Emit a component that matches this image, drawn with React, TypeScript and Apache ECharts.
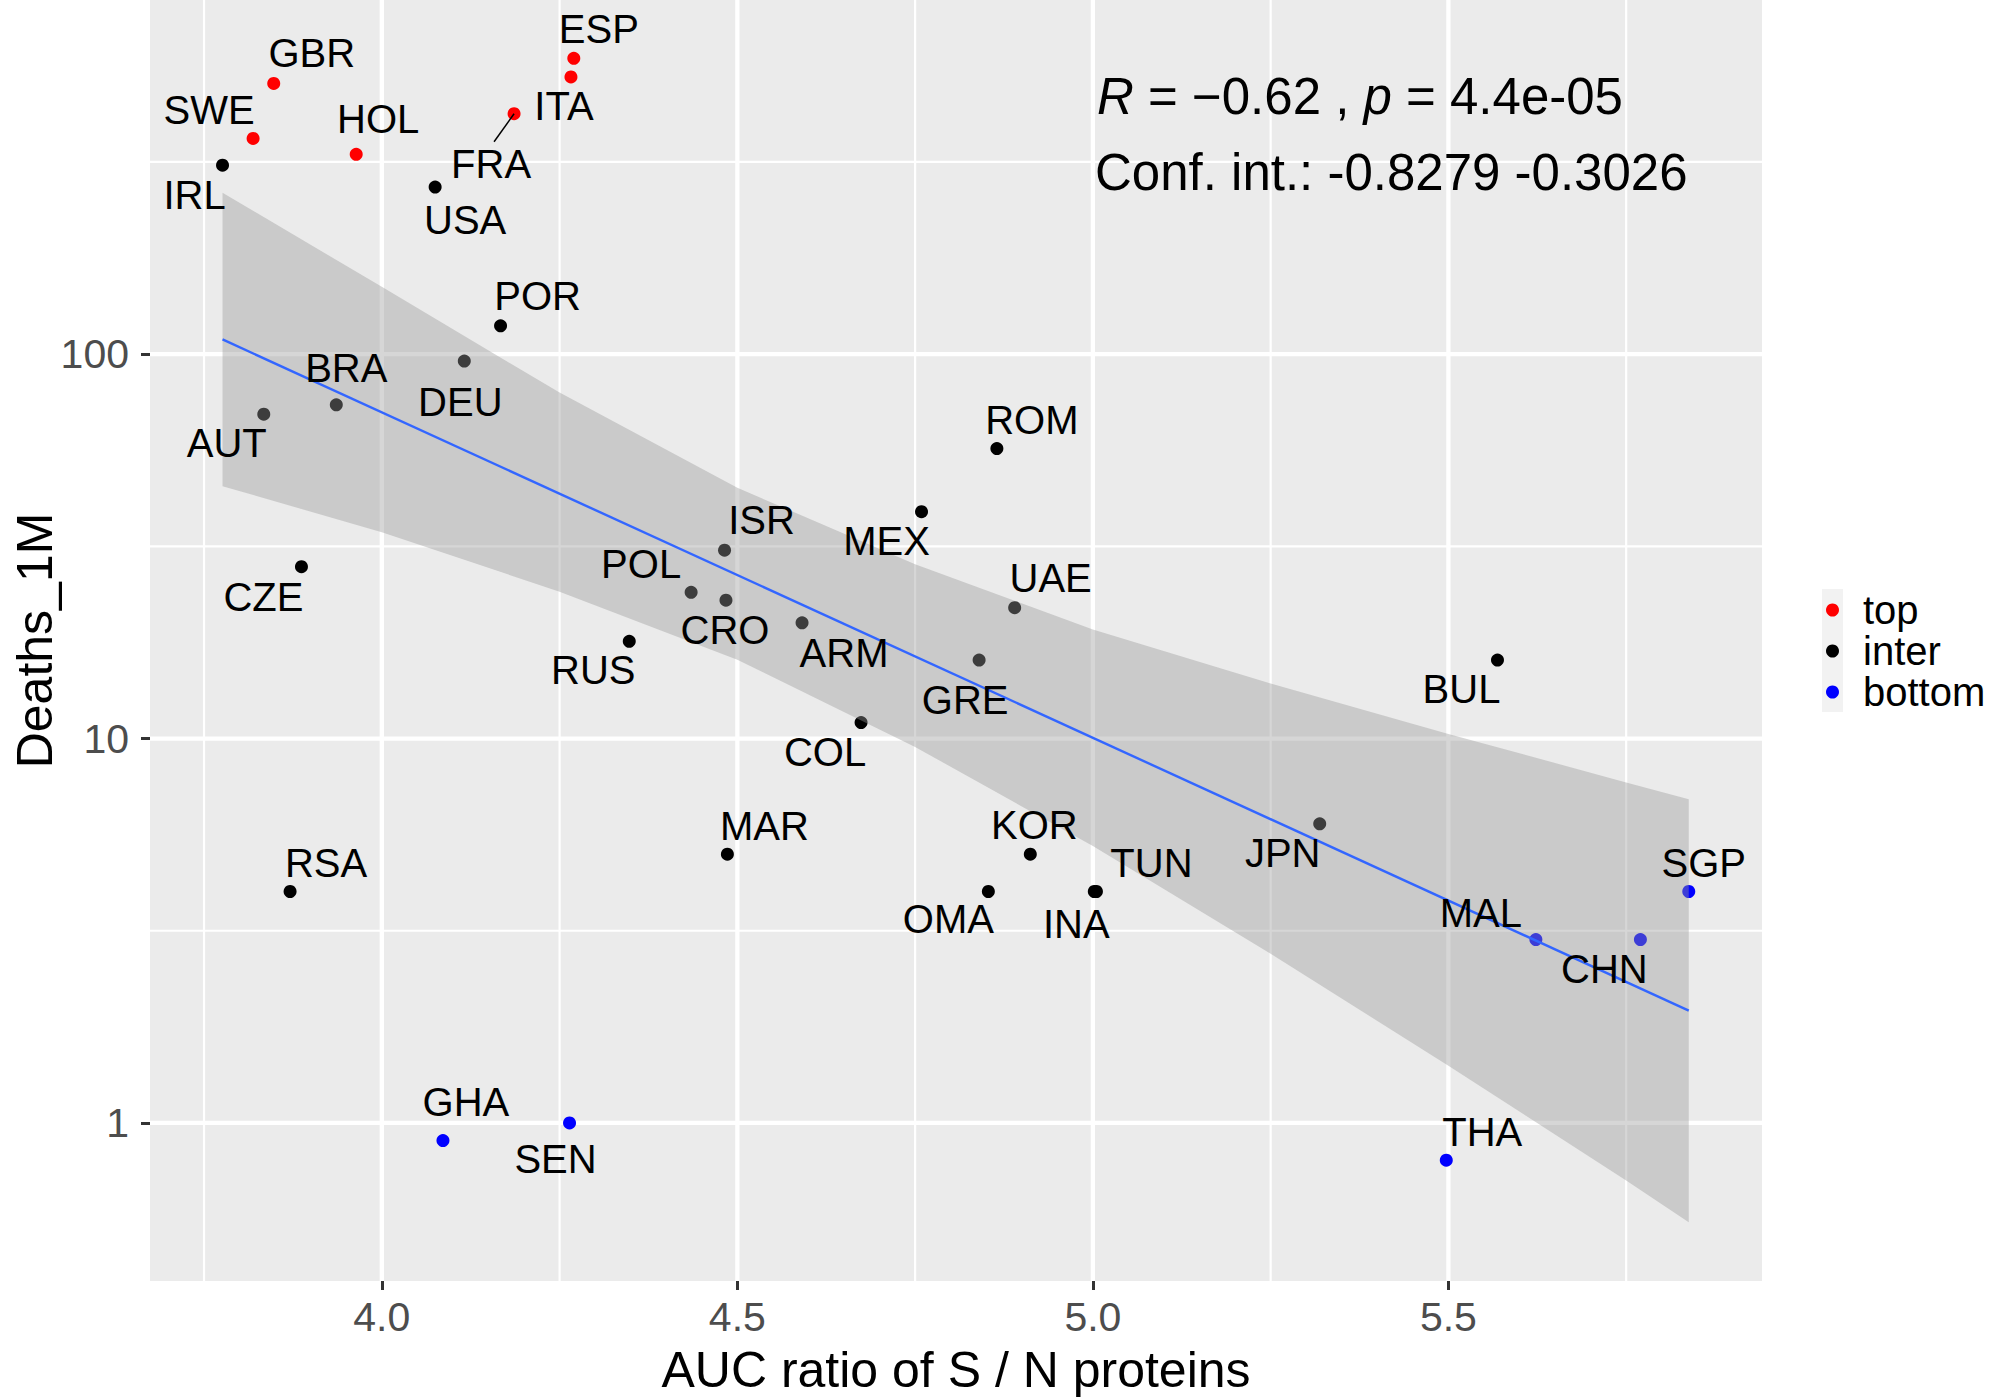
import React, { useEffect, useRef } from "react";
import * as echarts from "echarts";

// ---------- data ----------
const countries = [
  "IRL", "SWE", "GBR", "AUT", "BRA", "CZE", "RSA", "HOL", "USA", "DEU",
  "POR", "FRA", "ITA", "ESP", "GHA", "SEN", "RUS", "POL", "ISR", "CRO",
  "MAR", "ARM", "COL", "MEX", "GRE", "OMA", "ROM", "UAE", "KOR", "INA",
  "TUN", "JPN", "THA", "BUL", "MAL", "CHN", "SGP",
];
const aucRatio = [
  3.776, 3.819, 3.848, 3.834, 3.936, 3.887, 3.871, 3.964, 4.075, 4.116,
  4.167, 4.186, 4.266, 4.27, 4.086, 4.264, 4.348, 4.435, 4.482, 4.484,
  4.486, 4.591, 4.674, 4.759, 4.84, 4.853, 4.865, 4.89, 4.912, 5.002,
  5.005, 5.319, 5.497, 5.569, 5.623, 5.77, 5.838,
];
const deaths1M = [
  310, 364, 506, 69.8, 73.8, 28.0, 4.0, 331, 272, 95.9,
  118.5, 422, 526, 588, 0.9, 1.0, 17.9, 24.0, 30.9, 22.9,
  5.0, 20.0, 11.0, 38.9, 16.0, 4.0, 56.8, 21.9, 5.0, 4.0,
  4.0, 6.0, 0.8, 16.0, 3.0, 3.0, 4.0,
];
const groupOf = [
  "inter", "top", "top", "inter", "inter", "inter", "inter", "top", "inter", "inter",
  "inter", "top", "top", "top", "bottom", "bottom", "inter", "inter", "inter", "inter",
  "inter", "inter", "inter", "inter", "inter", "inter", "inter", "inter", "inter", "inter",
  "inter", "inter", "bottom", "inter", "bottom", "bottom", "bottom",
];
const groups = ["top", "inter", "bottom"];

// fitted line (log10 scale) and its confidence band
const fitX = [3.776, 5.838];
const fitY = [109.2, 1.96];
const ribbonX = [3.776, 4.0, 4.25, 4.5, 4.75, 5.0, 5.25, 5.5, 5.75, 5.838];
const ribbonUpper = [263, 149.6, 79.4, 44.9, 28.4, 19.2, 13.9, 10.28, 7.69, 6.95];
const ribbonLower = [45.35, 34.4, 24.1, 16.03, 9.51, 5.25, 2.754, 1.409, 0.708, 0.552];

// axes
const xRange = [3.674, 5.941];
const yRange = [0.388, 834];
const xMajorTicks = [4.0, 4.5, 5.0, 5.5];
const xMinorTicks = [3.75, 4.25, 4.75, 5.25, 5.75];
const yMajorTicks = [1, 10, 100];
const yMinorTicks = [3.162, 31.62, 316.2];

const corLine = "{i|R} = \u22120.62 , {i|p} = 4.4e-05";
const confLine = "Conf. int.: -0.8279 -0.3026";
const xTitle = "AUC ratio of S / N proteins";
const yTitle = "Deaths_1M";

// ---------- layout / style ----------
const FONT = "'Liberation Sans', Arial, Helvetica, sans-serif";
const groupColors: Record<string, string> = { top: "#FF0000", inter: "#000000", bottom: "#0000FF" };
const labelOffsets: Record<string, [number, number]> = {
  ESP: [25, -29], GBR: [38, -30], SWE: [-44, -28], HOL: [22, -35], ITA: [-7, 29],
  FRA: [-23, 50], IRL: [-28, 30], USA: [30, 33], POR: [37, -30], BRA: [10, -37],
  DEU: [-4, 41], AUT: [-37, 29], CZE: [-38, 30], RUS: [-36, 29], POL: [-50, -28],
  ROM: [35, -29], ISR: [37, -30], MEX: [-35, 29], UAE: [36, -30], CRO: [-1, 30],
  ARM: [42, 30], GRE: [-14, 40], COL: [-36, 29], BUL: [-36, 29], SGP: [15, -28],
  MAL: [-55, -27], JPN: [-37, 29], CHN: [-36, 29], THA: [36, -28], RSA: [36, -28],
  MAR: [37, -28], GHA: [23, -39], SEN: [-14, 36], KOR: [4, -29], OMA: [-40, 28],
  TUN: [55, -28], INA: [-18, 33],
};
const connectors: Record<string, [number, number]> = { FRA: [-20, 28] };
const legendKeyX = 1832.5;
const legendTextX = 1863;
const legendRowY = [610, 651, 692];

function buildOption(): any {
  const scatterSeries = groups.map((g) => ({
    type: "scatter",
    name: g,
    z: 2,
    symbol: "circle",
    symbolSize: 13,
    silent: true,
    itemStyle: { color: groupColors[g], opacity: 1 },
    data: countries
      .map((c, i) => (groupOf[i] === g ? [aucRatio[i], deaths1M[i]] : null))
      .filter((d) => d !== null),
  }));

  const legendGraphics: any[] = [
    {
      type: "rect",
      z: 0,
      silent: true,
      shape: { x: 1822, y: 589, width: 21, height: 123 },
      style: { fill: "#F2F2F2" },
    },
  ];
  groups.forEach((g, k) => {
    legendGraphics.push({
      type: "circle",
      z: 1,
      silent: true,
      shape: { cx: legendKeyX, cy: legendRowY[k], r: 6.5 },
      style: { fill: groupColors[g] },
    });
    legendGraphics.push({
      type: "text",
      z: 1,
      silent: true,
      x: legendTextX,
      y: legendRowY[k],
      style: {
        text: g,
        fontSize: 40,
        fontFamily: FONT,
        fill: "#000000",
        textAlign: "left",
        textVerticalAlign: "middle",
      },
    });
  });

  return {
    animation: false,
    backgroundColor: "#FFFFFF",
    grid: {
      left: 150,
      right: 230,
      top: 0,
      bottom: 118,
      show: true,
      containLabel: false,
      outerBoundsMode: "none",
      backgroundColor: "#EBEBEB",
      borderWidth: 0,
    },
    title: [
      {
        text: corLine,
        left: 1097,
        top: 66,
        padding: 0,
        textStyle: {
          fontSize: 51,
          fontWeight: "normal",
          color: "#000",
          fontFamily: FONT,
          lineHeight: 60,
          rich: {
            i: { fontStyle: "italic", fontSize: 51, fontFamily: FONT, color: "#000", lineHeight: 60 },
          },
        },
      },
      {
        text: confLine,
        left: 1095,
        top: 142,
        padding: 0,
        textStyle: { fontSize: 51, fontWeight: "normal", color: "#000", fontFamily: FONT, lineHeight: 60 },
      },
    ],
    graphic: legendGraphics,
    xAxis: {
      type: "value",
      min: xRange[0],
      max: xRange[1],
      splitLine: { show: false },
      axisLine: { show: false },
      axisTick: {
        show: true,
        customValues: xMajorTicks,
        length: 9,
        lineStyle: { color: "#333333", width: 3 },
      },
      axisLabel: {
        customValues: xMajorTicks,
        formatter: (v: number) => Number(v).toFixed(1),
        color: "#4D4D4D",
        fontSize: 41,
        fontFamily: FONT,
        margin: 15,
      },
      name: xTitle,
      nameLocation: "middle",
      nameGap: 64,
      nameMoveOverlap: false,
      nameTextStyle: { fontSize: 50, color: "#000", fontFamily: FONT },
    },
    yAxis: {
      type: "log",
      logBase: 10,
      min: yRange[0],
      max: yRange[1],
      splitLine: { show: false },
      minorSplitLine: { show: false },
      axisLine: { show: false },
      axisTick: {
        show: true,
        customValues: yMajorTicks,
        length: 9,
        lineStyle: { color: "#333333", width: 3 },
      },
      axisLabel: {
        customValues: yMajorTicks,
        formatter: (v: number) => String(Math.round(v)),
        color: "#4D4D4D",
        fontSize: 41,
        fontFamily: FONT,
        margin: 21,
      },
      name: yTitle,
      nameLocation: "middle",
      nameGap: 90,
      nameMoveOverlap: false,
      nameTextStyle: { fontSize: 50, color: "#000", fontFamily: FONT, lineHeight: 50 },
    },
    series: [
      // vertical grid lines (minor first, then major)
      {
        type: "custom",
        name: "xgrid",
        z: 1,
        silent: true,
        data: [...xMinorTicks.map((v) => [v, 10, 0]), ...xMajorTicks.map((v) => [v, 10, 1])],
        renderItem: (params: any, api: any) => {
          const cs = params.coordSys;
          const x = api.coord([api.value(0), 10])[0];
          return {
            type: "line",
            shape: { x1: x, y1: cs.y, x2: x, y2: cs.y + cs.height },
            style: { stroke: "#FFFFFF", lineWidth: api.value(2) ? 4.3 : 2.2 },
          };
        },
      },
      // horizontal grid lines
      {
        type: "custom",
        name: "ygrid",
        z: 1,
        silent: true,
        data: [...yMinorTicks.map((v) => [4.5, v, 0]), ...yMajorTicks.map((v) => [4.5, v, 1])],
        renderItem: (params: any, api: any) => {
          const cs = params.coordSys;
          const y = api.coord([4.5, api.value(1)])[1];
          return {
            type: "line",
            shape: { x1: cs.x, y1: y, x2: cs.x + cs.width, y2: y },
            style: { stroke: "#FFFFFF", lineWidth: api.value(2) ? 4.3 : 2.2 },
          };
        },
      },
      ...scatterSeries,
      // confidence band
      {
        type: "custom",
        name: "ribbon",
        z: 3,
        silent: true,
        data: [[ribbonX[0], ribbonUpper[0]]],
        renderItem: (params: any, api: any) => {
          const pts: number[][] = [];
          for (let i = 0; i < ribbonX.length; i++) pts.push(api.coord([ribbonX[i], ribbonUpper[i]]));
          for (let i = ribbonX.length - 1; i >= 0; i--) pts.push(api.coord([ribbonX[i], ribbonLower[i]]));
          return {
            type: "polygon",
            shape: { points: pts },
            style: { fill: "rgba(153,153,153,0.4)" },
          };
        },
      },
      // fitted line
      {
        type: "line",
        name: "fit",
        z: 4,
        silent: true,
        symbol: "none",
        showSymbol: false,
        data: fitX.map((x, i) => [x, fitY[i]]),
        lineStyle: { color: "#3366FF", width: 2.4 },
      },
      // country labels
      {
        type: "custom",
        name: "labels",
        z: 5,
        silent: true,
        clip: false,
        data: countries.map((c, i) => [aucRatio[i], deaths1M[i], i]),
        renderItem: (params: any, api: any) => {
          const i = api.value(2);
          const name = countries[i];
          const p = api.coord([api.value(0), api.value(1)]);
          const off = labelOffsets[name] || [0, -30];
          const children: any[] = [];
          const seg = connectors[name];
          if (seg) {
            children.push({
              type: "line",
              shape: { x1: p[0], y1: p[1], x2: p[0] + seg[0], y2: p[1] + seg[1] },
              style: { stroke: "#000000", lineWidth: 1.5 },
            });
          }
          children.push({
            type: "text",
            x: p[0] + off[0],
            y: p[1] + off[1],
            style: {
              text: name,
              fontSize: 40,
              fontFamily: FONT,
              fill: "#000000",
              align: "center",
              verticalAlign: "middle",
              textAlign: "center",
              textVerticalAlign: "middle",
            },
          });
          return { type: "group", children };
        },
      },
    ],
  };
}

export default function App() {
  const ref = useRef<HTMLDivElement>(null);
  useEffect(() => {
    if (!ref.current) return;
    const chart = echarts.init(ref.current, undefined, { renderer: "svg" });
    chart.setOption(buildOption());
    return () => chart.dispose();
  }, []);
  return (
    <div
      ref={ref}
      style={{ position: "fixed", left: 0, top: 0, width: 1992, height: 1399, background: "#fff" }}
    />
  );
}
